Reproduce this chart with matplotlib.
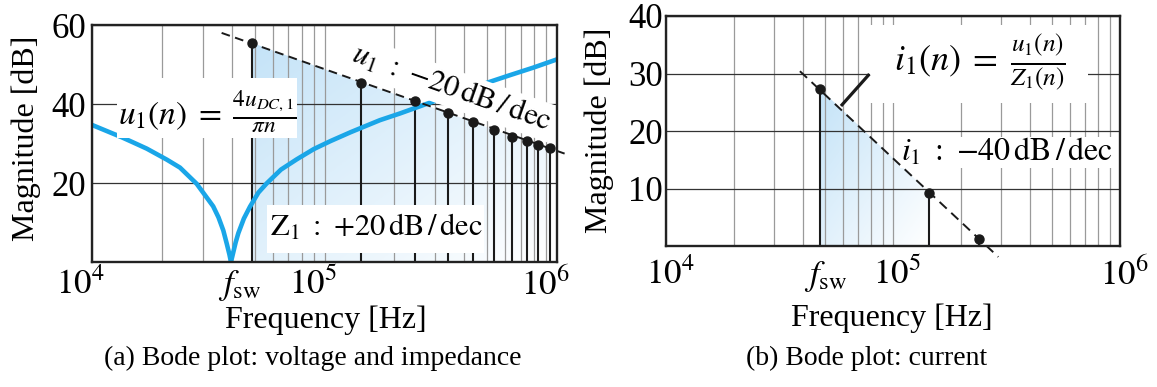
import numpy as np
import matplotlib
matplotlib.use("Agg")
import matplotlib.pyplot as plt
from matplotlib.patches import Polygon, Rectangle
from matplotlib.image import AxesImage
from matplotlib.ticker import FixedLocator, FixedFormatter, LogLocator, NullFormatter
from matplotlib.transforms import ScaledTranslation
import matplotlib.colors as mcolors

# ---------------- data ----------------
f_sw = 4.85e4
x_tick_values = [1e4, f_sw, 1e5, 1e6]
x_tick_labels = [r"$10^4$", r"$f_{\mathrm{sw}}$", r"$10^5$", r"$10^6$"]

# (a) voltage harmonics u1(n)
u1_freq = [4.87e4, 1.44e5, 2.44e5, 3.40e5, 4.37e5, 5.38e5, 6.38e5, 7.40e5, 8.30e5, 9.30e5]
u1_mag = [55.5, 45.4, 40.8, 37.6, 35.5, 33.4, 31.7, 30.7, 29.6, 28.8]
u1_slope_freq = [3.61e4, 1.12e6]
u1_slope_mag = [58.0, 27.1]

# (a) impedance Z1
z1_freq = [1.0e4, 1.34e4, 1.5e4, 1.72e4, 2.1e4, 2.39e4, 2.82e4, 3.32e4, 3.5e4, 3.67e4,
           3.8e4, 3.9e4, 3.96e4, 4.05e4, 4.15e4, 4.26e4, 4.5e4, 4.78e4, 5.2e4, 5.64e4,
           6.5e4, 7.6e4, 9.0e4, 1.06e5, 1.3e5, 1.73e5, 2.11e5, 2.8e5, 3.5e5, 4.9e5,
           6.2e5, 7.9e5, 1.0e6]
z1_mag = [34.7, 31.6, 30.3, 28.7, 25.9, 23.9, 19.8, 14.1, 11.3, 8.0,
          4.6, 1.9, 0.0, 2.4, 5.0, 7.3, 11.0, 14.0, 17.6, 19.9,
          23.4, 26.0, 28.6, 30.6, 32.9, 35.9, 37.6, 40.2, 42.2, 45.2,
          47.2, 49.2, 51.3]

# (b) current harmonics i1(n)
i1_freq = [4.78e4, 1.445e5, 2.40e5]
i1_mag = [27.3, 9.3, 1.3]
i1_slope_freq = [3.89e4, 2.91e5]
i1_slope_mag = [30.4, -1.9]
callout_freq = [5.9e4, 7.87e4]
callout_mag = [24.35, 29.9]

yticks_a = [20, 40, 60]
yticks_b = [10, 20, 30, 40]

# ---------------- style ----------------
plt.rcParams['font.family'] = ['Liberation Serif', 'DejaVu Serif']
plt.rcParams['mathtext.fontset'] = 'stix'

W, H = 1157, 387
fig = plt.figure(figsize=(W / 100, H / 100), dpi=100)
axL = fig.add_axes([92 / W, 1 - 262 / H, 465 / W, 237 / H])
axR = fig.add_axes([666 / W, 1 - 246 / H, 454 / W, 230 / H])

BLUE = '#1aa6e8'
INK = '#1a1a1a'
FS = 23
TICK_FS = 25


def style_axes(ax, ylim, yticks, xpad, ypad, xoff_px):
    ax.set_xscale('log')
    ax.set_xlim(1e4, 1e6)
    ax.set_ylim(*ylim)
    ax.xaxis.set_major_locator(FixedLocator(x_tick_values))
    ax.xaxis.set_major_formatter(FixedFormatter(x_tick_labels))
    ax.xaxis.set_minor_locator(LogLocator(base=10, subs=np.arange(1, 10)))
    ax.xaxis.set_minor_formatter(NullFormatter())
    ax.xaxis.remove_overlapping_locs = False
    ax.set_yticks(yticks)
    ax.set_yticklabels([str(v) for v in yticks])
    ax.tick_params(which='both', length=0, labelsize=TICK_FS)
    ax.tick_params(axis='x', pad=xpad)
    ax.tick_params(axis='y', pad=ypad)
    ax.grid(axis='x', which='minor', color='#9a9a9a', lw=0.9)
    ax.grid(axis='x', which='major', visible=False)
    ax.grid(axis='y', which='major', color='#333333', lw=0.9)
    ax.set_axisbelow(True)
    for s in ax.spines.values():
        s.set_linewidth(1.7)
        s.set_color('#222222')
        s.set_zorder(10)
    off = ScaledTranslation(xoff_px / 100, 0, fig.dpi_scale_trans)
    for t in ax.xaxis.get_major_ticks():
        t.label1.set_transform(t.label1.get_transform() + off)


def gradient_fill(ax, xs, ys, c0='#c4e3f8', c1='#ffffff'):
    verts = [(xs[0], 0)] + list(zip(xs, ys)) + [(xs[-1], 0)]
    poly = Polygon(verts, closed=True, facecolor='none', edgecolor='none',
                   transform=ax.transData)
    ax.add_patch(poly)
    trans = ax.transData + ax.transAxes.inverted()
    pts = trans.transform(verts)
    x0, y0 = pts.min(0)
    x1, y1 = pts.max(0)
    n = 200
    u = np.linspace(0, 1, n)
    U, V = np.meshgrid(u, u)
    t = 0.5 * U + 0.5 * (1 - V)
    a = np.array(mcolors.to_rgb(c0))
    b = np.array(mcolors.to_rgb(c1))
    img = a[None, None, :] * (1 - t[..., None]) + b[None, None, :] * t[..., None]
    im = AxesImage(ax, extent=(x0, x1, y0, y1), origin='lower',
                   interpolation='bilinear', transform=ax.transAxes, zorder=0.3)
    im.set_data(img)
    im.set_clip_path(poly)
    ax.add_image(im)


def white_box(ax, x0, x1, y0, y1):
    ax.add_patch(Rectangle((x0, y0), x1 - x0, y1 - y0, transform=ax.transAxes,
                           facecolor='white', edgecolor='none', zorder=5))


# ---------------- (a) ----------------
style_axes(axL, (0, 60), yticks_a, xpad=4.5, ypad=4, xoff_px=-12)
gradient_fill(axL, u1_freq, u1_mag)
axL.vlines(u1_freq, 0, u1_mag, color=INK, lw=1.5, zorder=2)
axL.plot(z1_freq, z1_mag, color=BLUE, lw=3.3, zorder=3)
axL.plot(u1_slope_freq, u1_slope_mag, color=INK, lw=1.4, dashes=(4.5, 2.8),
         clip_on=False, zorder=6)
axL.plot(u1_freq, u1_mag, 'o', ms=6.5, color=INK, zorder=7, clip_on=False)

white_box(axL, 0.054, 0.441, 0.523, 0.776)
axL.text(0.247, 0.633, r"$u_1(n)\;=\;\frac{4u_{DC,1}}{\pi n}$", transform=axL.transAxes,
         ha='center', va='center', fontsize=24, zorder=5.5)
white_box(axL, 0.376, 0.843, 0.038, 0.241)
axL.text(0.611, 0.143, r"$\mathrm{Z}_1\ :\ {+}20\,\mathrm{dB}\,/\,\mathrm{dec}$",
         transform=axL.transAxes, ha='center', va='center', fontsize=22, zorder=5.5)
axL.text(0.773, 0.732, r"$u_1\ :\ {-}20\,\mathrm{dB}\,/\,\mathrm{dec}$",
         transform=axL.transAxes, ha='center', va='center', fontsize=22,
         rotation=-19.5, rotation_mode='anchor', zorder=5.5,
         bbox=dict(boxstyle='square,pad=0.12', facecolor='white', edgecolor='none'))

axL.set_xlabel("Frequency [Hz]", fontsize=FS, va='center', ha='center')
axL.xaxis.set_label_coords(326 / W, 1 - 320 / H, transform=fig.transFigure)
axL.set_ylabel("Magnitude [dB]", fontsize=FS, va='center', ha='center')
axL.yaxis.set_label_coords(26 / W, 1 - 138 / H, transform=fig.transFigure)

# ---------------- (b) ----------------
style_axes(axR, (0, 40), yticks_b, xpad=9, ypad=2, xoff_px=4)
gradient_fill(axR, i1_freq[:2], i1_mag[:2])
axR.vlines(i1_freq, 0, i1_mag, color=INK, lw=1.5, zorder=2)
axR.plot(i1_slope_freq, i1_slope_mag, color=INK, lw=1.4, dashes=(5, 3.2),
         clip_on=False, zorder=6)
axR.plot(i1_freq, i1_mag, 'o', ms=6.5, color=INK, zorder=7, clip_on=False)
axR.plot(callout_freq, callout_mag, color=INK, lw=2.3, zorder=6,
         solid_capstyle='butt')

white_box(axR, 0.449, 0.930, 0.622, 0.961)
axR.text(0.692, 0.800, r"$i_1(n)\;=\;\frac{u_1(n)}{Z_1(n)}$", transform=axR.transAxes,
         ha='center', va='center', fontsize=26, zorder=5.5)
white_box(axR, 0.515, 0.991, 0.339, 0.474)
axR.text(0.751, 0.409, r"$i_1\ :\ {-}40\,\mathrm{dB}\,/\,\mathrm{dec}$",
         transform=axR.transAxes, ha='center', va='center', fontsize=23, zorder=5.5)

axR.set_xlabel("Frequency [Hz]", fontsize=FS, va='center', ha='center')
axR.xaxis.set_label_coords(892 / W, 1 - 318 / H, transform=fig.transFigure)
axR.set_ylabel("Magnitude [dB]", fontsize=FS, va='center', ha='center')
axR.yaxis.set_label_coords(599 / W, 1 - 130 / H, transform=fig.transFigure)

# ---------------- captions ----------------
fig.text(313 / W, 1 - 358 / H, "(a) Bode plot: voltage and impedance",
         ha='center', va='center', fontsize=20)
fig.text(867 / W, 1 - 358 / H, "(b) Bode plot: current",
         ha='center', va='center', fontsize=20)

fig.savefig("out.png", dpi=100)
